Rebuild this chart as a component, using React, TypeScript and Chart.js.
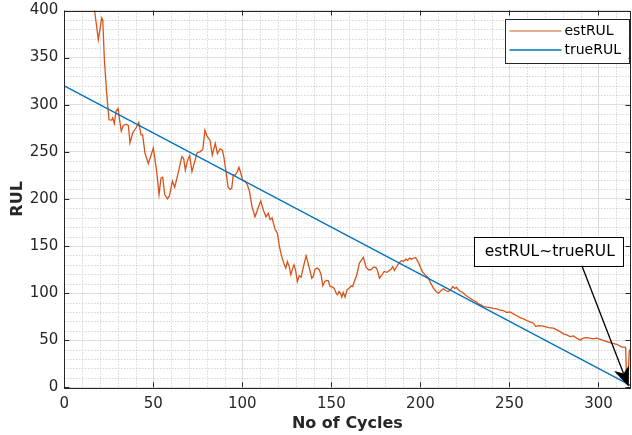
import React, { useEffect, useRef } from 'react';
import { Chart, registerables } from 'chart.js';

Chart.register(...registerables);

// Estimated remaining useful life per cycle
const estCycles = [
  15, 17, 19.1, 21, 21.6, 22.5, 23.8, 25.1, 26.6, 27.2, 28.1, 29, 30.2, 30.9, 32, 33.1, 34.7, 36, 36.9, 38.4,
  40.3, 41.8, 43.1, 44, 45.3, 47.2, 48.5, 50, 51.9, 53.2, 54.3, 55.3, 56.4, 57.9, 59, 60.7, 62, 63.5, 66, 67,
  68, 69.1, 70.4, 71.7, 73, 74.6, 76.2, 77.8, 79, 80.3, 81.9, 83.1, 84.8, 86, 87.5, 88.8, 89.7, 90.8, 92, 93.1,
  94, 94.9, 96, 97.2, 98.1, 99.1, 100.2, 101.5, 102.8, 104, 105.4, 107.1, 108.4, 110.3, 111.8, 113.3, 114.6, 115.6, 116.7, 118.2,
  119.7, 120.8, 122.1, 123.4, 124.4, 125.3, 126.4, 127.2, 128.3, 129, 130, 130.9, 132, 133, 133.9, 134.8, 135.8, 136.7, 137.6, 139,
  139.9, 140.8, 142.1, 143.2, 144.2, 145.2, 146.3, 147.4, 148.3, 149.3, 150.4, 151.5, 152.7, 153.4, 154.3, 155.2, 155.8, 156.7, 157.7, 158.8,
  160.1, 161.2, 162, 162.9, 164.3, 165.7, 168, 169.5, 170.8, 172.2, 173.6, 174.9, 175.8, 177, 178.5, 179.6, 181.1, 182.2, 183.5, 184.5,
  185.4, 186.7, 188.2, 189.5, 190.5, 191.8, 192.8, 193.9, 195.1, 196.2, 197.3, 198, 199.1, 200.2, 201.3, 202.6, 204.5, 205.8, 207.3, 208.8,
  210.1, 211.5, 213, 214.4, 215.7, 217, 218.2, 219.3, 220.4, 221.3, 222.6, 223.8, 225.1, 226.4, 228, 229.8, 231.2, 232.6, 234, 235.4,
  237.3, 239.2, 241, 242.9, 244.8, 246.6, 248.5, 250.4, 252.2, 254.2, 256, 257.9, 259.7, 261.6, 263.5, 264.8, 266.3, 268.2, 270, 271.9,
  274.7, 276.6, 278.5, 280.3, 282.2, 284.1, 286, 287.8, 289.7, 291.5, 293.4, 295.3, 297.2, 299, 301.8, 304.7, 307.5, 310.3, 313.1, 315,
  315.3, 315.6, 316.5, 317.3, 318,
];
const estRUL = [
  460, 400, 369, 392, 390, 348, 312, 284, 283.6, 286, 280, 293, 296, 286, 272, 278, 279, 278, 259.6, 270,
  275.5, 281, 268, 268, 248.6, 237.5, 245, 254, 229, 204.6, 222, 223, 204.6, 200, 202.8, 218.8, 212.4, 224, 245, 243,
  230.5, 240, 246, 229, 238, 249, 250, 252.5, 273, 266, 262, 246.5, 259, 248, 253, 251.7, 243.6, 229, 212.4, 210,
  211, 225.5, 225, 229, 233.5, 227.5, 219.5, 219, 215, 208, 192, 181, 188, 198, 188, 181, 184.7, 178, 180, 168.6,
  163.4, 149.5, 139, 131, 126.5, 133.5, 127.6, 119.5, 126.5, 130, 123, 112.3, 118.4, 117, 124.8, 131.8, 139.5, 133.5, 126.5, 115.8,
  118, 125.3, 126.5, 124.8, 119.5, 107.8, 112.3, 113.4, 113, 107, 106.5, 105.3, 100, 98.2, 101.7, 99.5, 95.7, 100.7, 95.7, 103.5,
  105.3, 107.8, 107, 112.3, 119.5, 131.8, 137.8, 127.6, 124.8, 124.8, 127.6, 127.6, 124.5, 115.8, 119.5, 123, 122, 123.5, 125.3, 128.2,
  124, 128.2, 132.5, 134.6, 133.5, 136, 134.8, 137.2, 136, 137.2, 137.6, 135.5, 131.8, 126.5, 122, 119.5, 115.8, 110.6, 105.3, 101.7,
  100, 102.5, 104.6, 102.5, 101.7, 103.5, 107, 105, 106, 103.5, 101.7, 100.7, 98.2, 96.4, 94.6, 92.1, 91, 88.6, 87.5, 85.7,
  85, 84.5, 83.8, 83.3, 82, 81.5, 79.4, 80, 78, 75.9, 74, 72.7, 70.9, 69.5, 68, 64.5, 65.5, 65.2, 64.5, 63.4,
  62.8, 61, 59.1, 56.7, 55.6, 53.8, 54.5, 52.1, 50.3, 52.1, 52.8, 52.1, 51.5, 52.1, 50.3, 48.5, 46.8, 45.7, 42.6, 42.6,
  41.5, 18, 4, 38, 41,
];

// True remaining useful life (linear decline)
const trueCycles = [0, 318];
const trueRUL = [320, 2];

const xTicks = [0, 50, 100, 150, 200, 250, 300];
const yTicks = [0, 50, 100, 150, 200, 250, 300, 350, 400];
const xMax = 318;
const yMax = 400;
const minorStep = 10;

const seriesNames = ['estRUL', 'trueRUL'];
const seriesColors = ['#D95319', '#0072BD'];
const xTitle = 'No of Cycles';
const yTitle = 'RUL';
const noteText = 'estRUL~trueRUL';

// Note box and arrow, in axis units
const noteBox = { cycleFrom: 230.2, cycleTo: 314, rulTop: 160, rulBottom: 129 };
const arrowTail = { cycle: 290.7, rul: 129 };
const arrowTip = { cycle: 317, rul: 0.5 };

const AXIS_COLOR = '#262626';
const FONT = "'DejaVu Sans', sans-serif";

const framePlugin = {
  id: 'frame',
  beforeDatasetsDraw(chart: any) {
    const { ctx, chartArea: a, scales } = chart;
    const x = scales.x;
    const y = scales.y;
    ctx.save();
    ctx.beginPath();
    ctx.rect(a.left, a.top, a.right - a.left, a.bottom - a.top);
    ctx.clip();
    ctx.strokeStyle = '#c2c2c2';
    ctx.lineWidth = 1;
    ctx.setLineDash([1, 2]);
    for (let v = minorStep; v < xMax; v += minorStep) {
      if (v % 50 === 0) continue;
      const px = Math.round(x.getPixelForValue(v)) + 0.5;
      ctx.beginPath();
      ctx.moveTo(px, a.top);
      ctx.lineTo(px, a.bottom);
      ctx.stroke();
    }
    for (let v = minorStep; v < yMax; v += minorStep) {
      if (v % 50 === 0) continue;
      const py = Math.round(y.getPixelForValue(v)) + 0.5;
      ctx.beginPath();
      ctx.moveTo(a.left, py);
      ctx.lineTo(a.right, py);
      ctx.stroke();
    }
    ctx.restore();
  },
  afterDatasetsDraw(chart: any) {
    const { ctx, chartArea: a, scales } = chart;
    const x = scales.x;
    const y = scales.y;
    ctx.save();

    // axes box with inward ticks
    ctx.strokeStyle = AXIS_COLOR;
    ctx.lineWidth = 1;
    ctx.setLineDash([]);
    ctx.strokeRect(Math.round(a.left) + 0.5, Math.round(a.top) + 0.5, Math.round(a.right - a.left), Math.round(a.bottom - a.top));
    const tl = 5;
    ctx.beginPath();
    for (const v of xTicks) {
      const px = Math.round(x.getPixelForValue(v)) + 0.5;
      ctx.moveTo(px, a.bottom);
      ctx.lineTo(px, a.bottom - tl);
      ctx.moveTo(px, a.top);
      ctx.lineTo(px, a.top + tl);
    }
    for (const v of yTicks) {
      const py = Math.round(y.getPixelForValue(v)) + 0.5;
      ctx.moveTo(a.left, py);
      ctx.lineTo(a.left + tl, py);
      ctx.moveTo(a.right, py);
      ctx.lineTo(a.right - tl, py);
    }
    ctx.stroke();

    // legend
    const lw = 124;
    const lh = 44;
    const lx = a.right - lw - 2;
    const ly = a.top + 8;
    ctx.fillStyle = '#ffffff';
    ctx.fillRect(lx, ly, lw, lh);
    ctx.strokeStyle = AXIS_COLOR;
    ctx.strokeRect(Math.round(lx) + 0.5, Math.round(ly) + 0.5, lw, lh);
    ctx.font = `14px ${FONT}`;
    ctx.textBaseline = 'middle';
    ctx.textAlign = 'left';
    seriesNames.forEach((name, i) => {
      const rowY = ly + 12.5 + i * 19;
      ctx.strokeStyle = seriesColors[i];
      ctx.globalAlpha = i === 0 ? 0.65 : 1;
      ctx.lineWidth = 1.5;
      ctx.beginPath();
      ctx.moveTo(lx + 5, rowY);
      ctx.lineTo(lx + 57, rowY);
      ctx.stroke();
      ctx.globalAlpha = 1;
      ctx.fillStyle = '#000000';
      ctx.fillText(name, lx + 60, rowY + 0.5);
    });

    // note box
    const bx0 = x.getPixelForValue(noteBox.cycleFrom);
    const bx1 = x.getPixelForValue(noteBox.cycleTo);
    const by0 = y.getPixelForValue(noteBox.rulTop);
    const by1 = y.getPixelForValue(noteBox.rulBottom);
    ctx.fillStyle = '#ffffff';
    ctx.fillRect(bx0, by0, bx1 - bx0, by1 - by0);
    ctx.strokeStyle = '#000000';
    ctx.lineWidth = 1;
    ctx.strokeRect(Math.round(bx0) + 0.5, Math.round(by0) + 0.5, Math.round(bx1 - bx0), Math.round(by1 - by0));
    ctx.fillStyle = '#000000';
    ctx.font = `15.5px ${FONT}`;
    ctx.textAlign = 'center';
    ctx.textBaseline = 'middle';
    ctx.fillText(noteText, (bx0 + bx1) / 2 + 1, (by0 + by1) / 2 + 1);

    // arrow
    const sx = x.getPixelForValue(arrowTail.cycle);
    const sy = y.getPixelForValue(arrowTail.rul);
    const tx = x.getPixelForValue(arrowTip.cycle);
    const ty = y.getPixelForValue(arrowTip.rul);
    const dx = tx - sx;
    const dy = ty - sy;
    const len = Math.hypot(dx, dy);
    const ux = dx / len;
    const uy = dy / len;
    const headLen = 20;
    const headHalf = 8;
    const bx = tx - ux * headLen;
    const by = ty - uy * headLen;
    const nx = tx - ux * headLen * 0.72;
    const ny = ty - uy * headLen * 0.72;
    ctx.lineWidth = 1.3;
    ctx.beginPath();
    ctx.moveTo(sx, sy);
    ctx.lineTo(nx, ny);
    ctx.stroke();
    ctx.beginPath();
    ctx.moveTo(tx, ty);
    ctx.lineTo(bx - uy * headHalf, by + ux * headHalf);
    ctx.lineTo(nx, ny);
    ctx.lineTo(bx + uy * headHalf, by - ux * headHalf);
    ctx.closePath();
    ctx.fill();

    ctx.restore();
  },
};

export default function App() {
  const canvasRef = useRef<HTMLCanvasElement | null>(null);

  useEffect(() => {
    const canvas = canvasRef.current;
    if (!canvas) return;
    Chart.defaults.font.family = FONT;
    const chart = new Chart(canvas, {
      type: 'line',
      data: {
        datasets: [
          {
            label: seriesNames[0],
            data: estCycles.map((c, i) => ({ x: c, y: estRUL[i] })),
            borderColor: seriesColors[0],
            borderWidth: 1.3,
            pointRadius: 0,
            tension: 0,
            order: 2,
          },
          {
            label: seriesNames[1],
            data: trueCycles.map((c, i) => ({ x: c, y: trueRUL[i] })),
            borderColor: seriesColors[1],
            borderWidth: 1.3,
            pointRadius: 0,
            tension: 0,
            order: 1,
          },
        ],
      },
      options: {
        animation: false,
        responsive: false,
        maintainAspectRatio: false,
        layout: { padding: { top: 10.5, right: 1.5, left: 0, bottom: 0 } },
        plugins: { legend: { display: false }, tooltip: { enabled: false } },
        scales: {
          x: {
            type: 'linear',
            min: 0,
            max: xMax,
            afterBuildTicks: (s: any) => {
              s.ticks = xTicks.map((v) => ({ value: v }));
            },
            afterFit: (s: any) => {
              s.height = 47.7;
              s.paddingLeft = 0;
              s.paddingRight = 0;
            },
            ticks: { font: { size: 15 }, color: AXIS_COLOR, padding: 8, maxRotation: 0 },
            grid: { color: '#dedede', lineWidth: 1, drawTicks: false },
            border: { display: false },
            title: {
              display: true,
              text: xTitle,
              color: AXIS_COLOR,
              font: { size: 16, weight: 'bold' },
              padding: { top: 0, bottom: 1.5 },
            },
          },
          y: {
            type: 'linear',
            min: 0,
            max: yMax,
            afterBuildTicks: (s: any) => {
              s.ticks = yTicks.map((v) => ({ value: v }));
            },
            afterFit: (s: any) => {
              s.width = 64.3;
              s.paddingTop = 0;
              s.paddingBottom = 0;
            },
            ticks: { font: { size: 15 }, color: AXIS_COLOR, padding: 6 },
            grid: { color: '#dedede', lineWidth: 1, drawTicks: false },
            border: { display: false },
            title: {
              display: true,
              text: yTitle,
              color: AXIS_COLOR,
              font: { size: 16, weight: 'bold' },
              padding: { top: 8, bottom: 0 },
            },
          },
        },
      },
      plugins: [framePlugin],
    });
    return () => chart.destroy();
  }, []);

  return (
    <div style={{ position: 'fixed', left: 0, top: 0, width: 632, height: 435, background: '#ffffff' }}>
      <canvas ref={canvasRef} width={632} height={435} style={{ display: 'block', width: 632, height: 435 }} />
    </div>
  );
}
